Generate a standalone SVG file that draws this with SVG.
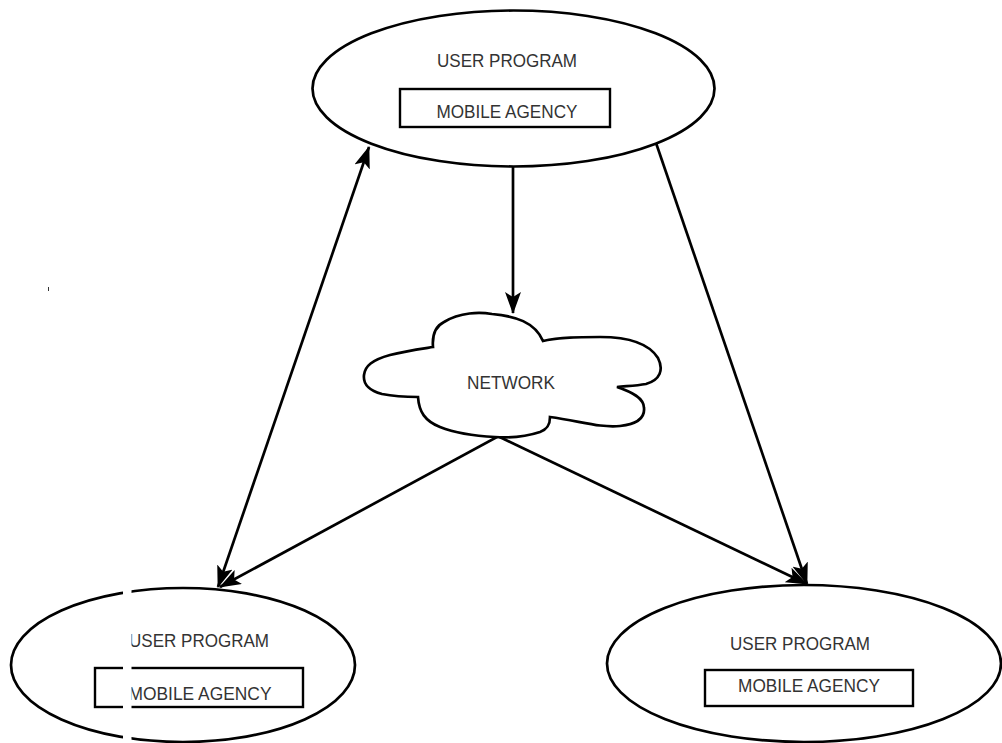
<svg xmlns="http://www.w3.org/2000/svg" width="1002" height="743" viewBox="0 0 1002 743">
  <style>
    .shape { fill: #ffffff; stroke: #000000; stroke-width: 2.7; }
    .box { fill: none; stroke: #000000; stroke-width: 2.4; }
    .label { font-family: "Liberation Sans", Arial, sans-serif; font-size: 19px; fill: #333333; text-anchor: middle; }
    .link { fill: none; stroke: #000000; stroke-width: 2.7; }
  </style>
  <defs>
    <marker id="head" viewBox="0 0 22 16" refX="21" refY="8" markerWidth="22" markerHeight="16" markerUnits="userSpaceOnUse" orient="auto-start-reverse">
      <path d="M0,0 L22,8 L0,16 L5,8 Z" fill="#000000"/>
    </marker>
  </defs>
  <rect width="1002" height="743" fill="#ffffff"/>

  <!-- connectors -->
  <g id="connectors">
    <line class="link" x1="513" y1="167" x2="513" y2="313" marker-end="url(#head)"/>
    <line class="link" x1="218" y1="587" x2="369" y2="147" marker-start="url(#head)" marker-end="url(#head)"/>
    <line class="link" x1="510" y1="430" x2="220" y2="587" marker-end="url(#head)"/>
    <line class="link" x1="485" y1="430" x2="807" y2="584" marker-end="url(#head)"/>
    <line class="link" x1="655" y1="140" x2="807" y2="584" marker-end="url(#head)"/>
  </g>

  <!-- top user program -->
  <g id="user-top">
    <ellipse class="shape" cx="513.5" cy="88.5" rx="201" ry="78"/>
    <text class="label" x="507" y="67" textLength="140" lengthAdjust="spacingAndGlyphs">USER PROGRAM</text>
    <rect class="box" x="400" y="89" width="210" height="38"/>
    <text class="label" x="507" y="118" textLength="141" lengthAdjust="spacingAndGlyphs">MOBILE AGENCY</text>
  </g>

  <!-- network cloud -->
  <g id="network">
    <path class="shape" d="M433,347 C432,335 436,326 444,322 C460,312 480,312 492,314 C515,316 535,322 543,341 C560,337 580,337 600,337 C625,337 648,342 658,358 C664,370 660,380 646,384 C635,386 625,386 617,387 C632,392 644,398 644,408 C645,418 638,424 620,426 C600,428 580,421 550,417 C550,424 548,429 540,432 C525,437 510,438 495,437 C475,436 455,433 440,427 C425,421 419,412 418,397 C405,397 392,396 382,394 C368,390 363,384 364,375 C365,366 372,360 390,355 C405,351 420,349 433,347 Z"/>
    <text class="label" x="511" y="389" textLength="88" lengthAdjust="spacingAndGlyphs">NETWORK</text>
  </g>

  <!-- bottom-left user program -->
  <g id="user-left">
    <ellipse class="shape" cx="183" cy="665" rx="172" ry="77"/>
    <text class="label" x="199" y="647" textLength="140" lengthAdjust="spacingAndGlyphs">USER PROGRAM</text>
    <rect class="box" x="95" y="668" width="208" height="39"/>
    <text class="label" x="200" y="700" textLength="143" lengthAdjust="spacingAndGlyphs">MOBILE AGENCY</text>
    <rect x="123" y="580" width="8.5" height="163" fill="#ffffff"/>
  </g>

  <!-- bottom-right user program -->
  <g id="user-right">
    <ellipse class="shape" cx="804" cy="663.5" rx="197" ry="78.5"/>
    <text class="label" x="800" y="650" textLength="140" lengthAdjust="spacingAndGlyphs">USER PROGRAM</text>
    <rect class="box" x="705" y="670" width="208" height="36"/>
    <text class="label" x="809" y="692" textLength="142" lengthAdjust="spacingAndGlyphs">MOBILE AGENCY</text>
  </g>

  <line x1="48.5" y1="287" x2="48.5" y2="291" stroke="#333333" stroke-width="1"/>
</svg>
